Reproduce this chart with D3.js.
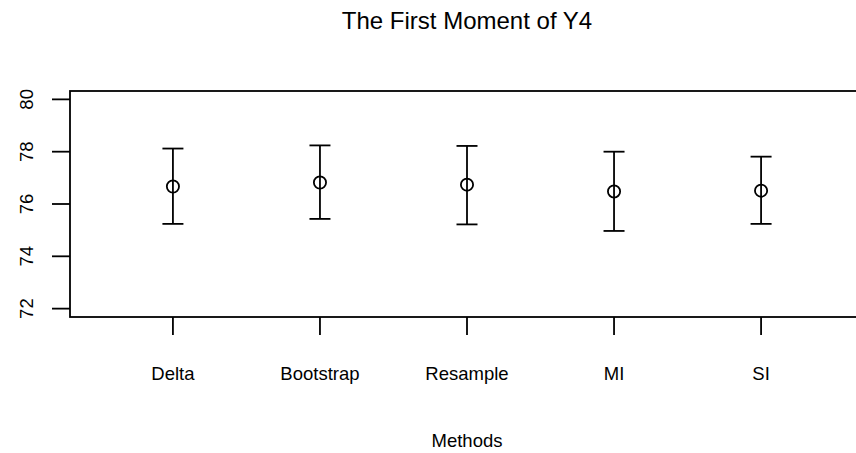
<!DOCTYPE html>
<html>
<head>
<meta charset="utf-8">
<script src="https://cdn.jsdelivr.net/npm/d3@7"></script>
<style>
  body { margin: 0; background: #fff; }
  svg { display: block; font-family: "Liberation Sans", Arial, sans-serif; }
</style>
</head>
<body>
<svg id="chart"></svg>
<script>
const methods = ["Delta", "Bootstrap", "Resample", "MI", "SI"];
const means = [76.67, 76.82, 76.74, 76.48, 76.51];
const lower = [75.24, 75.43, 75.22, 74.97, 75.24];
const upper = [78.12, 78.24, 78.22, 78.0, 77.81];
const yTicks = [72, 74, 76, 78, 80];

const width = 856, height = 453;
const plot = {left: 70, right: 864, top: 91, bottom: 317};

const svg = d3.select('#chart')
    .attr('width', width)
    .attr('height', height);

// R style: xlim c(0.5, 5.5), ylim c(72, 80), each padded by 4%
const x = d3.scaleLinear().domain([0.3, 5.7]).range([plot.left, plot.right]);
const y = d3.scaleLinear().domain([71.68, 80.32]).range([plot.bottom, plot.top]);

// frame
svg.append('rect')
    .attr('x', plot.left).attr('y', plot.top)
    .attr('width', plot.right - plot.left).attr('height', plot.bottom - plot.top)
    .attr('fill', 'none').attr('stroke', '#000').attr('stroke-width', 1.8);

// y axis
const yAxis = svg.append('g');
yAxis.selectAll('line').data(yTicks).join('line')
    .attr('x1', plot.left - 18).attr('x2', plot.left)
    .attr('y1', d => y(d)).attr('y2', d => y(d))
    .attr('stroke', '#000').attr('stroke-width', 1.8);
yAxis.selectAll('text').data(yTicks).join('text')
    .attr('transform', d => `translate(33,${y(d)}) rotate(-90)`)
    .attr('text-anchor', 'middle')
    .attr('font-size', 18.5)
    .text(d => d);

// x axis
const xAxis = svg.append('g');
xAxis.selectAll('line').data(methods).join('line')
    .attr('x1', (d, i) => x(i + 1)).attr('x2', (d, i) => x(i + 1))
    .attr('y1', plot.bottom).attr('y2', plot.bottom + 18)
    .attr('stroke', '#000').attr('stroke-width', 1.8);
xAxis.selectAll('text').data(methods).join('text')
    .attr('x', (d, i) => x(i + 1)).attr('y', 380)
    .attr('text-anchor', 'middle')
    .attr('font-size', 18.5)
    .text(d => d);

// error bars (open circles, bar visible through them)
const bars = svg.append('g').attr('stroke', '#000').attr('stroke-width', 1.8).attr('fill', 'none');
methods.forEach((m, i) => {
  const cx = x(i + 1);
  bars.append('line').attr('x1', cx).attr('x2', cx).attr('y1', y(lower[i])).attr('y2', y(upper[i]));
  bars.append('line').attr('x1', cx - 10.5).attr('x2', cx + 10.5).attr('y1', y(upper[i])).attr('y2', y(upper[i]));
  bars.append('line').attr('x1', cx - 10.5).attr('x2', cx + 10.5).attr('y1', y(lower[i])).attr('y2', y(lower[i]));
  bars.append('circle').attr('cx', cx).attr('cy', y(means[i])).attr('r', 6.1);
});

// titles
const midX = (plot.left + plot.right) / 2;
svg.append('text')
    .attr('x', midX).attr('y', 29)
    .attr('text-anchor', 'middle')
    .attr('font-size', 24)
    .text('The First Moment of Y4');
svg.append('text')
    .attr('x', midX).attr('y', 447)
    .attr('text-anchor', 'middle')
    .attr('font-size', 18.5)
    .text('Methods');
</script>
</body>
</html>
